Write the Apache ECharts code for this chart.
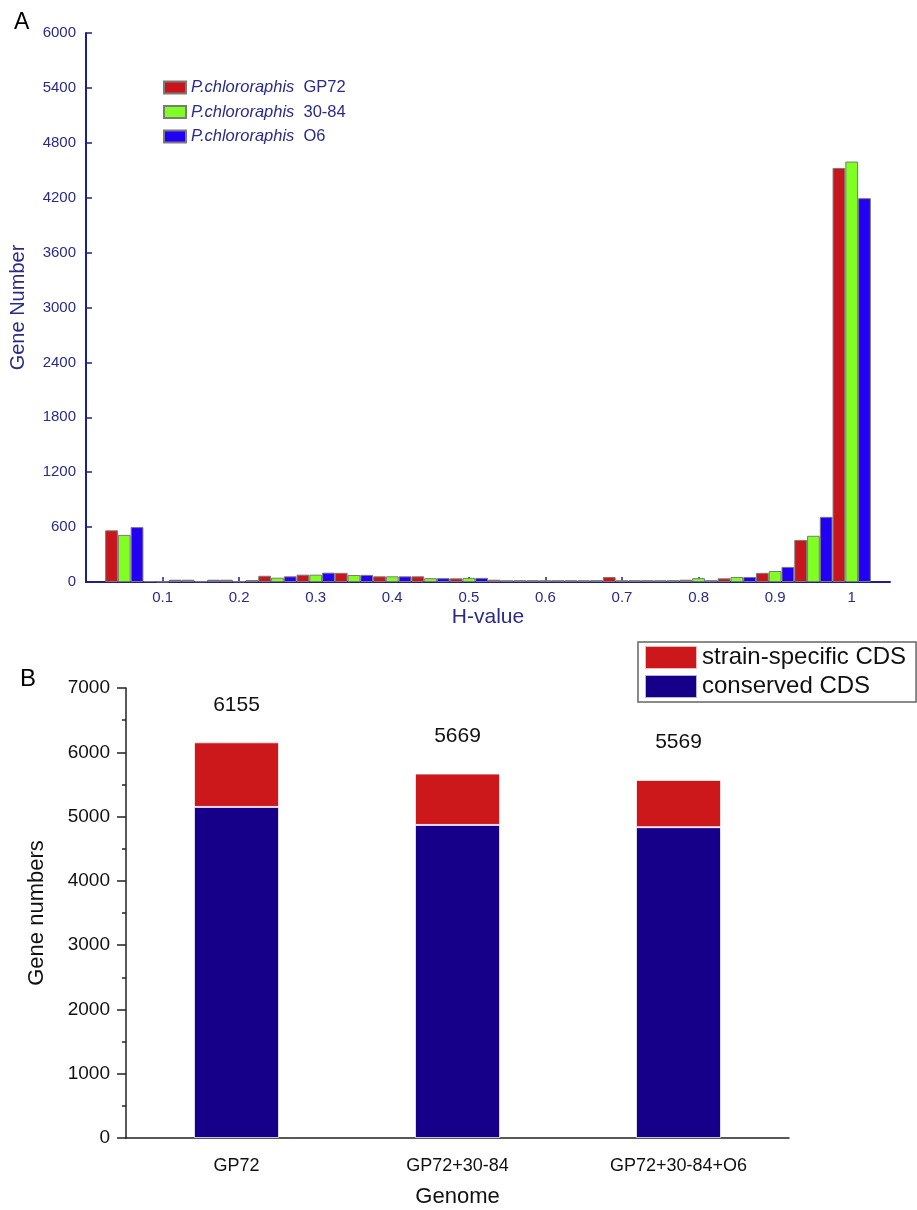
<!DOCTYPE html>
<html>
<head>
<meta charset="utf-8">
<script src="https://cdn.jsdelivr.net/npm/echarts@6/dist/echarts.min.js"></script>
<style>
html,body{margin:0;padding:0;background:#fff;}
#chart{width:917px;height:1210px;}
</style>
</head>
<body>
<div id="chart"></div>
<script>
// ---------- Panel A data ----------
const hBins = [0.05,0.10,0.15,0.20,0.25,0.30,0.35,0.40,0.45,0.50,0.55,0.60,0.65,0.70,0.75,0.80,0.85,0.90,0.95,1.00];
const hTicks = [0.1,0.2,0.3,0.4,0.5,0.6,0.7,0.8,0.9,1.0];
const gp72   = [565,10,25,25,68,80,100,62,62,40,25,20,20,55,20,25,40,100,460,4525];
const s3084  = [515,5,8,8,47,80,77,62,42,45,20,20,20,20,20,42,55,120,505,4595];
const o6     = [600,25,25,22,62,102,78,62,42,45,20,20,20,20,20,20,55,165,712,4195];
const strainNames = ['P.chlororaphis GP72','P.chlororaphis 30-84','P.chlororaphis O6'];

// ---------- Panel B data ----------
const genomes = ['GP72','GP72+30-84','GP72+30-84+O6'];
const conserved = [5150,4870,4835];
const specific  = [1005,799,734];
const totals    = [6155,5669,5569];

const navy = '#1f1f8c';
const navyText = '#2a2a88';
const font = 'Liberation Sans, Arial, sans-serif';

const chart = echarts.init(document.getElementById('chart'));

function pairs(vals){ return hBins.map((h,i)=>[h, vals[i]]); }

const aColors = ['#c8161d','#7fff22','#2200f5'];
const aData = [gp72, s3084, o6];

const seriesA = strainNames.map((n,k)=>({
  name: n, type: 'bar', xAxisIndex: 0, yAxisIndex: 0,
  data: pairs(aData[k]),
  barGap: '0%', barCategoryGap: '0%',
  itemStyle: { color: aColors[k], borderColor: '#7a7a7a', borderWidth: 1 }
}));

const option = {
  animation: false,
  backgroundColor: '#fff',
  title: [
    { text: 'A', left: 9, top: 6, textStyle: { fontFamily: font, fontSize: 23, fontWeight: 'normal', color: '#000' } },
    { text: 'B', left: 15, top: 662, textStyle: { fontFamily: font, fontSize: 24, fontWeight: 'normal', color: '#000' } }
  ],
  legend: [
    {
      data: strainNames, orient: 'vertical', left: 158, top: 74,
      itemWidth: 22, itemHeight: 12, itemGap: 7.5, icon: 'rect',
      formatter: name => '{i|P.chlororaphis}  ' + name.replace('P.chlororaphis ', ''),
      textStyle: { fontFamily: font, fontSize: 16.5, color: navyText,
        rich: { i: { fontFamily: font, fontSize: 16.5, fontStyle: 'italic', color: navyText } } }
    },
    {
      data: ['strain-specific CDS','conserved CDS'], orient: 'vertical', left: 638, top: 642,
      itemWidth: 52, itemHeight: 23, itemGap: 4, icon: 'rect',
      borderColor: '#666', borderWidth: 1.5, padding: [3, 10, 3, 6],
      textStyle: { fontFamily: font, fontSize: 24, color: '#111' }
    }
  ],
  grid: [
    { left: 86, top: 33, right: 27, bottom: 628 },
    { left: 126, top: 688, width: 663, height: 450 }
  ],
  xAxis: [
    {
      type: 'value', gridIndex: 0, min: 0, max: 1.05, interval: 0.1,
      name: 'H-value', nameLocation: 'middle', nameGap: 25,
      nameTextStyle: { fontFamily: font, fontSize: 21, color: navyText },
      axisLine: { lineStyle: { color: navy, width: 2 } },
      axisTick: { inside: true, length: 5, customValues: hTicks, lineStyle: { color: navy, width: 1.5 } },
      splitLine: { show: false },
      axisLabel: { fontFamily: font, fontSize: 15, color: navyText, margin: 8, customValues: hTicks,
        formatter: v => {
          if (v < 0.05 || v > 1.02) return '';
          if (Math.abs(v - 1) < 1e-6) return '1';
          return v.toFixed(1);
        } }
    },
    {
      type: 'category', gridIndex: 1, data: genomes,
      name: 'Genome', nameLocation: 'middle', nameGap: 48,
      nameTextStyle: { fontFamily: font, fontSize: 22, color: '#111' },
      axisLine: { lineStyle: { color: '#222', width: 1.5 } },
      axisTick: { alignWithLabel: true, length: 9, lineStyle: { color: '#222', width: 1.5 } },
      axisLabel: { fontFamily: font, fontSize: 18, color: '#111', margin: 19 }
    }
  ],
  yAxis: [
    {
      type: 'value', gridIndex: 0, min: 0, max: 6000, interval: 600,
      name: 'Gene Number', nameLocation: 'middle', nameGap: 58,
      nameTextStyle: { fontFamily: font, fontSize: 20, color: navyText },
      axisLine: { show: true, lineStyle: { color: navy, width: 2 } },
      axisTick: { show: true, inside: true, length: 6, lineStyle: { color: navy, width: 1.5 } },
      splitLine: { show: false },
      axisLabel: { fontFamily: font, fontSize: 15, color: navyText, margin: 10,
        formatter: v => String(v) }
    },
    {
      type: 'value', gridIndex: 1, min: 0, max: 7000, interval: 1000,
      name: 'Gene numbers', nameLocation: 'middle', nameGap: 78,
      nameTextStyle: { fontFamily: font, fontSize: 22, color: '#111' },
      axisLine: { show: true, lineStyle: { color: '#222', width: 1.5 } },
      axisTick: { show: true, length: 9, lineStyle: { color: '#222', width: 1.5 } },
      minorTick: { show: true, splitNumber: 2, length: 4, lineStyle: { color: '#222', width: 1.5 } },
      splitLine: { show: false },
      axisLabel: { fontFamily: font, fontSize: 19, color: '#111', margin: 16,
        formatter: v => String(v) }
    }
  ],
  series: seriesA.concat([
    {
      name: 'conserved CDS', type: 'bar', xAxisIndex: 1, yAxisIndex: 1, stack: 'g',
      barWidth: 85, data: conserved,
      itemStyle: { color: '#170089', borderColor: 'rgba(255,255,255,0.7)', borderWidth: 1 }
    },
    {
      name: 'strain-specific CDS', type: 'bar', xAxisIndex: 1, yAxisIndex: 1, stack: 'g',
      barWidth: 85, data: specific,
      itemStyle: { color: '#cc171b', borderColor: 'rgba(255,255,255,0.7)', borderWidth: 1 },
      label: { show: true, position: 'top', distance: 27, fontFamily: font, fontSize: 21, color: '#111',
        formatter: p => String(totals[p.dataIndex]) }
    }
  ])
};
chart.setOption(option);
</script>
</body>
</html>
